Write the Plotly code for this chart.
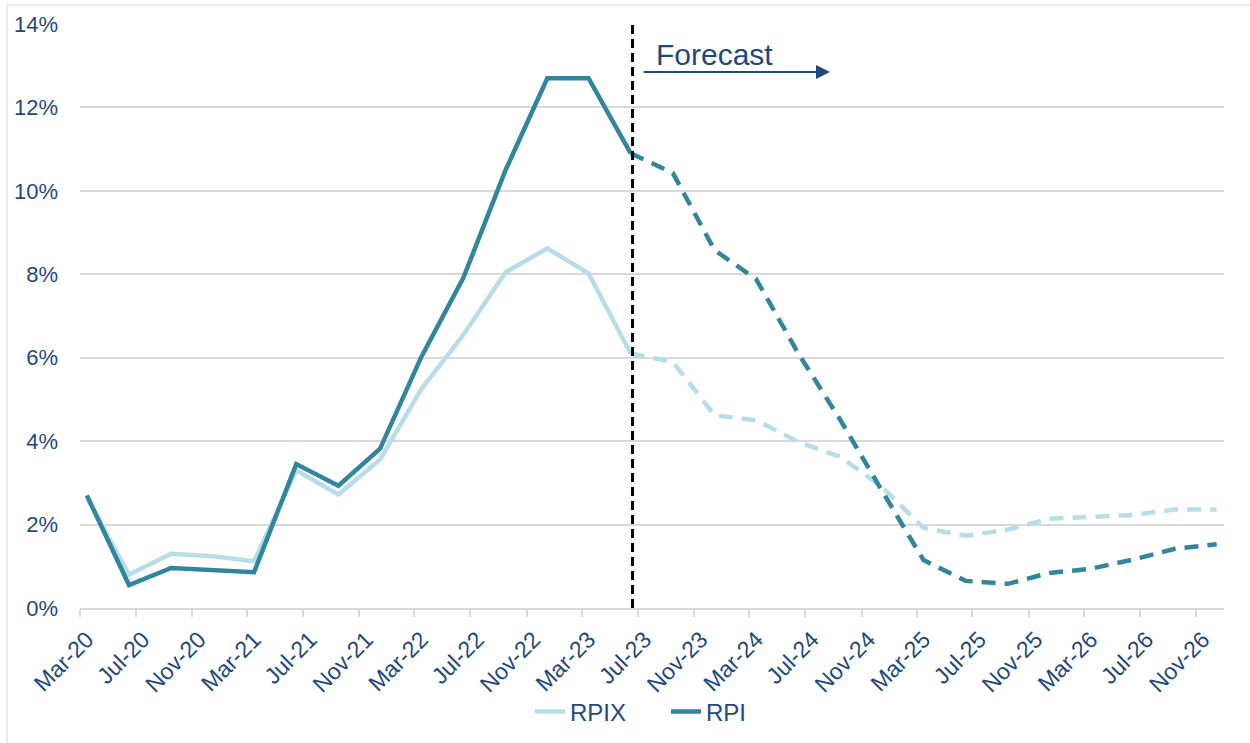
import plotly.graph_objects as go

# Quarterly observation months (mid-month positions on a date axis)
quarters = ["2020-03", "2020-06", "2020-09", "2020-12",
            "2021-03", "2021-06", "2021-09", "2021-12",
            "2022-03", "2022-06", "2022-09", "2022-12",
            "2023-03", "2023-06", "2023-09", "2023-12",
            "2024-03", "2024-06", "2024-09", "2024-12",
            "2025-03", "2025-06", "2025-09", "2025-12",
            "2026-03", "2026-06", "2026-09", "2026-12"]

rpi = [2.7, 0.55, 0.96, 0.91, 0.86, 3.45, 2.93, 3.82, 6.02, 7.92, 10.5, 12.7,
       12.7, 10.9, 10.43, 8.58, 7.88, 6.1, 4.5, 2.8, 1.15, 0.65, 0.58, 0.84,
       0.94, 1.16, 1.42, 1.53]
rpix = [2.65, 0.8, 1.3, 1.24, 1.12, 3.3, 2.72, 3.56, 5.25, 6.55, 8.05, 8.62,
        8.02, 6.1, 5.9, 4.62, 4.5, 3.98, 3.62, 2.9, 1.92, 1.73, 1.88, 2.14,
        2.18, 2.23, 2.36, 2.36]
forecast_start = 13  # index of Jun-23, last actual
ytick_vals = [0, 2, 4, 6, 8, 10, 12, 14]
ytick_text = ["0%", "2%", "4%", "6%", "8%", "10%", "12%", "14%"]

x = [q + "-16" for q in quarters]

TEAL = "#31859C"
LIGHT = "#B7DEE8"
NAVY = "#1F497D"
FONT = "Liberation Sans, Arial, sans-serif"
DASH = "14px,9px"

fig = go.Figure()
fs = forecast_start
fig.add_trace(go.Scatter(x=x[:fs + 1], y=rpix[:fs + 1], mode="lines", name="RPIX",
                         line=dict(color=LIGHT, width=4.5), legendrank=1))
fig.add_trace(go.Scatter(x=x[fs:], y=rpix[fs:], mode="lines", showlegend=False,
                         line=dict(color=LIGHT, width=4.5, dash=DASH)))
fig.add_trace(go.Scatter(x=x[:fs + 1], y=rpi[:fs + 1], mode="lines", name="RPI",
                         line=dict(color=TEAL, width=4.5), legendrank=2))
fig.add_trace(go.Scatter(x=x[fs:], y=rpi[fs:], mode="lines", showlegend=False,
                         line=dict(color=TEAL, width=4.5, dash=DASH)))

# Forecast divider
fig.add_shape(type="line", xref="x", yref="y", x0="2023-06-20", x1="2023-06-20",
              y0=0, y1=14, line=dict(color="black", width=3, dash="9px,5px"))

# Forecast arrow and label
fig.add_annotation(x="2024-08-24", y=12.85, ax="2023-07-11", ay=12.85,
                   xref="x", yref="y", axref="x", ayref="y", text="",
                   showarrow=True, arrowhead=2, arrowsize=1.4, arrowwidth=2,
                   arrowcolor=NAVY)
fig.add_annotation(x="2023-08-05", y=13.28, xref="x", yref="y", text="Forecast",
                   showarrow=False, xanchor="left", yanchor="middle",
                   font=dict(size=30, color=NAVY, family=FONT))

# Outer chart border (light beige)
fig.add_shape(type="rect", xref="paper", yref="paper",
              x0=(7 - 80) / 1144, x1=(1300 - 80) / 1144,
              y0=(608 - 800) / 584, y1=(608 - 5) / 584,
              line=dict(color="#EEECE1", width=2), layer="below")

fig.update_layout(
    width=1250, height=743,
    margin=dict(l=80, r=26, t=24, b=135, autoexpand=False),
    paper_bgcolor="white", plot_bgcolor="white",
    font=dict(family=FONT, color=NAVY, size=20),
    showlegend=True,
    legend=dict(orientation="h", x=(530 - 80) / 1144, xanchor="left",
                y=-0.178, yanchor="middle", entrywidth=91,
                bgcolor="rgba(0,0,0,0)",
                font=dict(size=24, color=NAVY), tracegroupgap=0),
    xaxis=dict(type="date", range=["2020-03-01", "2027-01-01"],
               tick0="2020-03-01", dtick="M4", tickformat="%b-%y",
               tickangle=-45, ticks="outside", ticklen=7, tickcolor="#D9D9D9",
               tickwidth=2, automargin=False, ticklabelshift=7,
               showgrid=False, showline=True, linecolor="#D9D9D9", linewidth=2,
               tickfont=dict(size=23, color=NAVY), zeroline=False),
    yaxis=dict(range=[0, 14], tickvals=ytick_vals, ticktext=ytick_text,
               showgrid=True, gridcolor="#D9D9D9", gridwidth=2,
               zeroline=False, showline=False, ticks="", automargin=False,
               ticklabelstandoff=21,
               tickfont=dict(size=22, color=NAVY)),
)

fig.write_html("out.html", post_script="document.body.style.margin='0';",
               config={"displayModeBar": False})
